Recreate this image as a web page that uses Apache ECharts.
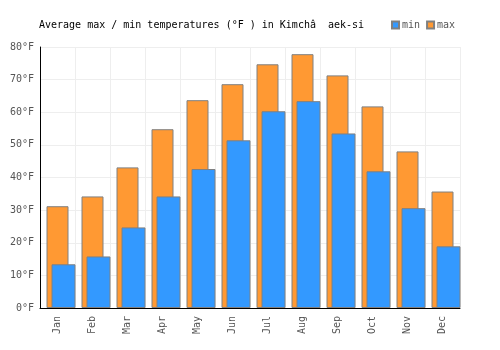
<!DOCTYPE html>
<html>
<head>
<meta charset="utf-8">
<script src="https://cdn.jsdelivr.net/npm/echarts@6/dist/echarts.min.js"></script>
<style>html,body{margin:0;padding:0;background:#fff}#c{width:500px;height:350px}</style>
</head>
<body>
<div id="c"></div>
<script>
const months = ['Jan','Feb','Mar','Apr','May','Jun','Jul','Aug','Sep','Oct','Nov','Dec'];
const maxTemps = [31.2, 34.2, 43.1, 54.8, 63.7, 68.6, 74.7, 77.8, 71.3, 61.8, 48.0, 35.7];
const minTemps = [13.4, 15.8, 24.7, 34.2, 42.6, 51.4, 60.3, 63.4, 53.5, 41.9, 30.6, 18.9];
const titleText = 'Average max / min temperatures (°F ) in Kimchâ  aek-si';

const mono = 'DejaVu Sans Mono';
const chart = echarts.init(document.getElementById('c'), null, {renderer: 'canvas'});
chart.setOption({
  animation: false,
  backgroundColor: '#fff',
  title: {
    text: titleText, left: 34, top: 15,
    textStyle: {fontFamily: mono, fontSize: 10, fontWeight: 'normal', color: '#000'}
  },
  legend: {
    data: ['min', 'max'], left: 386, top: 15,
    itemWidth: 7, itemHeight: 7, itemGap: 6, icon: 'rect',
    textStyle: {fontFamily: mono, fontSize: 10, color: '#555', padding: [0, 0, 0, -2]}
  },
  grid: [
    {left: 40, right: 40, top: 47, bottom: 42},
    {left: 46, right: 34, top: 47, bottom: 42}
  ],
  xAxis: [
    {type: 'category', data: months, gridIndex: 0,
     axisLine: {lineStyle: {color: '#000', width: 1}}, axisTick: {show: false},
     splitLine: {show: true, lineStyle: {color: '#eeeeee'}},
     axisLabel: {rotate: 90, fontFamily: mono, fontSize: 10, color: '#555', margin: 8, interval: 0}},
    {type: 'category', data: months, gridIndex: 1, show: false}
  ],
  yAxis: [
    {type: 'value', min: 0, max: 80, interval: 10, gridIndex: 0,
     axisLine: {show: true, lineStyle: {color: '#000', width: 1}}, axisTick: {show: false},
     splitLine: {lineStyle: {color: '#eeeeee'}},
     axisLabel: {formatter: '{value}°F', fontFamily: mono, fontSize: 10, color: '#555', margin: 6}},
    {type: 'value', min: 0, max: 80, interval: 10, gridIndex: 1, show: false}
  ],
  series: [
    {name: 'max', type: 'bar', xAxisIndex: 0, yAxisIndex: 0, data: maxTemps, barWidth: 22,
     itemStyle: {color: '#ff9933', borderColor: '#808080', borderWidth: 1}},
    {name: 'min', type: 'bar', xAxisIndex: 1, yAxisIndex: 1, data: minTemps, barWidth: 24,
     itemStyle: {color: '#3399ff', borderColor: '#808080', borderWidth: 1}}
  ]
});
</script>
</body>
</html>
